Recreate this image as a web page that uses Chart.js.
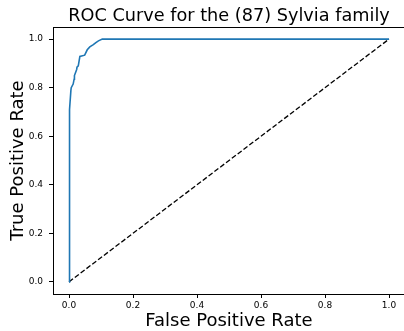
<!DOCTYPE html>
<html>
<head>
<meta charset="utf-8">
<script src="https://cdn.jsdelivr.net/npm/chart.js@4/dist/chart.umd.min.js"></script>
<style>
html,body{margin:0;padding:0;background:#fff;overflow:hidden;width:404px;height:331px;}
#wrap{width:408px;height:331px;}
</style>
</head>
<body>
<div id="wrap"><canvas id="c" width="408" height="331"></canvas></div>
<script>
// ROC curve points
const fpr = [0, 0, 0.002, 0.003, 0.006, 0.007, 0.013, 0.016, 0.017, 0.024, 0.025, 0.029, 0.034, 0.049, 0.057, 0.065, 0.076, 0.084, 0.092, 0.104, 1.0];
const tpr = [0, 0.65, 0.67, 0.71, 0.79, 0.80, 0.815, 0.835, 0.85, 0.875, 0.885, 0.89, 0.929, 0.934, 0.956, 0.968, 0.977, 0.986, 0.993, 1.0, 1.0];
// chance diagonal
const diagX = [0, 1];
const diagY = [0, 1];
const tickValues = [0, 0.2, 0.4, 0.6, 0.8, 1.0];
const tickLabels = ['0.0', '0.2', '0.4', '0.6', '0.8', '1.0'];

const FONT = 'DejaVu Sans';

const framePlugin = {
  id: 'frame',
  afterDraw(chart) {
    const a = chart.chartArea, ctx = chart.ctx;
    ctx.save();
    ctx.strokeStyle = '#000';
    ctx.lineWidth = 1;
    ctx.strokeRect(Math.round(a.left) + 0.5, Math.round(a.top) + 0.5, Math.round(a.right - a.left), Math.round(a.bottom - a.top));
    ctx.restore();
  }
};

const setTicks = (scale) => { scale.ticks = tickValues.map(v => ({ value: v })); };

new Chart(document.getElementById('c'), {
  type: 'scatter',
  data: {
    datasets: [
      {
        data: fpr.map((x, i) => ({ x, y: tpr[i] })),
        showLine: true,
        borderColor: '#1f77b4',
        borderWidth: 1.6,
        pointRadius: 0,
        fill: false,
        tension: 0
      },
      {
        data: diagX.map((x, i) => ({ x, y: diagY[i] })),
        showLine: true,
        borderColor: '#000000',
        borderWidth: 1.3,
        borderDash: [5, 2.3],
        pointRadius: 0,
        fill: false
      }
    ]
  },
  plugins: [framePlugin],
  options: {
    responsive: false,
    animation: false,
    events: [],
    layout: { padding: { right: 3, top: 0, left: 0, bottom: 0 } },
    plugins: {
      legend: { display: false },
      tooltip: { enabled: false },
      title: {
        display: true,
        fullSize: false,
        text: 'ROC Curve for the (87) Sylvia family',
        color: '#000',
        font: { family: FONT, size: 17.7, weight: 'normal', lineHeight: 1 },
        padding: { top: 7.3, bottom: 2 }
      }
    },
    scales: {
      x: {
        type: 'linear',
        min: -0.05,
        max: 1.05,
        afterBuildTicks: setTicks,
        afterFit(s) { s.height = 37; },
        grid: { drawOnChartArea: false, drawTicks: true, tickLength: 4, color: '#000', tickWidth: 1 },
        border: { display: true, color: '#000', width: 1 },
        ticks: {
          color: '#000',
          font: { family: FONT, size: 9 },
          padding: 2,
          maxRotation: 0,
          autoSkip: false,
          callback: (v) => tickLabels[tickValues.indexOf(v)]
        },
        title: {
          display: true,
          text: 'False Positive Rate',
          color: '#000',
          font: { family: FONT, size: 18, lineHeight: 1 },
          padding: { top: 0, bottom: 0.5 }
        }
      },
      y: {
        type: 'linear',
        min: -0.05,
        max: 1.05,
        afterBuildTicks: setTicks,
        afterFit(s) { s.width = 53; },
        grid: { drawOnChartArea: false, drawTicks: true, tickLength: 4, color: '#000', tickWidth: 1 },
        border: { display: true, color: '#000', width: 1 },
        ticks: {
          color: '#000',
          font: { family: FONT, size: 9 },
          padding: 6,
          autoSkip: false,
          callback: (v) => tickLabels[tickValues.indexOf(v)]
        },
        title: {
          display: true,
          text: 'True Positive Rate',
          color: '#000',
          font: { family: FONT, size: 18, lineHeight: 1 },
          padding: { top: 9, bottom: 0 }
        }
      }
    }
  }
});
</script>
</body>
</html>
